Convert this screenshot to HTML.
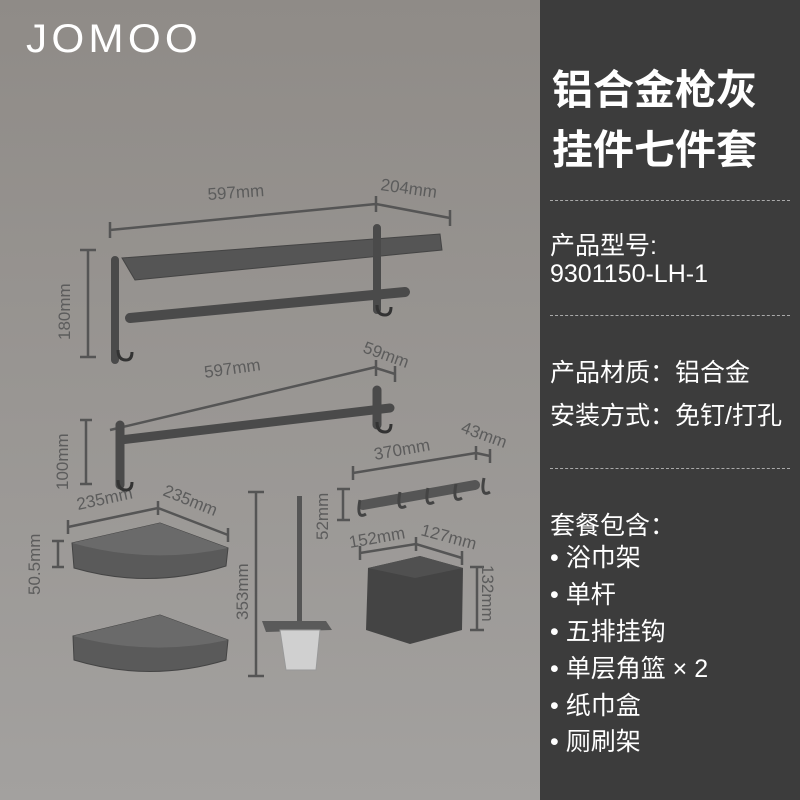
<!DOCTYPE html>
<html><head><meta charset="utf-8"><style>
html,body{margin:0;padding:0}
body{width:800px;height:800px;overflow:hidden;position:relative;background:linear-gradient(#8f8b87,#a3a19f);font-family:"Liberation Sans","Noto Sans CJK SC",sans-serif}
#panel{position:absolute;left:540px;top:0;width:260px;height:800px;background:#3c3c3c;color:#fff}
.t{position:absolute;left:10px;font-size:25px;color:#fff;white-space:nowrap}
.h{font-weight:bold;font-size:41px;left:12px;letter-spacing:0}
.d{position:absolute;left:10px;width:240px;border-top:1px dashed #aaa}
</style></head><body>
<svg width="540" height="800" style="position:absolute;left:0;top:0" font-family="Liberation Sans" fill="#5a5a5a">
<text x="26" y="52" font-size="40" fill="#fff" letter-spacing="4" textLength="176" lengthAdjust="spacingAndGlyphs">JOMOO</text>
<g stroke="#555" stroke-width="2.5" fill="none">
<path d="M110 230 L376 204 M110 222 V238 M376 196 V212 M376 204 L450 218 M450 210 V226"/>
<path d="M80 250 H96 M80 357 H96 M88 250 V357"/>
<path d="M110 430 L376 367 M376 360 V376 M376 368 L395 374 M395 366 V382"/>
<path d="M80 420 H92 M80 484 H92 M86 420 V484"/>
<path d="M68 527 L158 508 L228 535 M68 520 V534 M158 501 V515 M228 528 V542"/>
<path d="M52 541 H64 M52 567 H64 M58 541 V567"/>
<path d="M248 492 H264 M248 676 H264 M256 492 V676"/>
<path d="M337 489 H350 M337 520 H350 M343 489 V520"/>
<path d="M353 473 L476 453 M353 466 V480 M476 446 V460 M476 453 L490 456 M490 449 V463"/>
<path d="M360 553 L416 544 L462 558 M360 546 V560 M416 537 V551 M462 551 V565"/>
<path d="M470 567 H484 M470 630 H484 M477 567 V630"/>
</g>
<g font-size="17" fill="#5c5c5c">
<text x="208" y="200" transform="rotate(-4 208 200)">597mm</text>
<text x="380" y="190" transform="rotate(8 380 190)">204mm</text>
<text x="70" y="340" transform="rotate(-90 70 340)">180mm</text>
<text x="205" y="378" transform="rotate(-8 205 378)">597mm</text>
<text x="362" y="352" transform="rotate(20 362 352)">59mm</text>
<text x="68" y="490" transform="rotate(-90 68 490)">100mm</text>
<text x="375" y="460" transform="rotate(-10 375 460)">370mm</text>
<text x="460" y="432" transform="rotate(20 460 432)">43mm</text>
<text x="78" y="510" transform="rotate(-12 78 510)">235mm</text>
<text x="162" y="495" transform="rotate(22 162 495)">235mm</text>
<text x="40" y="595" transform="rotate(-90 40 595)">50.5mm</text>
<text x="248" y="620" transform="rotate(-90 248 620)">353mm</text>
<text x="328" y="540" transform="rotate(-90 328 540)">52mm</text>
<text x="350" y="548" transform="rotate(-10 350 548)">152mm</text>
<text x="420" y="535" transform="rotate(15 420 535)">127mm</text>
<text x="482" y="565" transform="rotate(90 482 565)">132mm</text>
</g>
<!-- towel rack -->
<path d="M122 258 L440 234 L442 250 L135 280 Z" fill="#555" stroke="#444"/>
<g fill="none" stroke="#4a4a4a" stroke-linecap="round">
<path d="M130 318 L405 292" stroke-width="10"/>
<path d="M115 260 V360 M377 228 V310" stroke-width="8"/>
<path d="M120 440 L390 408" stroke-width="9"/>
<path d="M120 425 V485 M377 390 V425" stroke-width="9"/>
<path d="M363 505 L475 485" stroke-width="10" stroke="#555"/>
</g>
<path d="M118 350 q0 10 8 10 q6 0 6-8 M377 305 q0 10 8 10 q6 0 6-8 M118 480 q0 10 8 10 q6 0 6-8 M377 422 q0 10 8 10 q6 0 6-8" stroke="#333" stroke-width="3" fill="none"/>
<!-- baskets -->
<path d="M72 543 L160 523 L228 548 L226 566 Q150 590 74 568 Z" fill="#5a5a5a" stroke="#444"/>
<path d="M72 543 L160 523 L228 548 Q150 565 72 543Z" fill="#6a6a6a"/>
<path d="M73 636 L160 615 L228 640 L226 660 Q150 683 74 660 Z" fill="#5a5a5a" stroke="#444"/>
<path d="M73 636 L160 615 L228 640 Q150 657 73 636Z" fill="#6a6a6a"/>
<!-- brush -->
<rect x="297" y="496" width="5" height="130" fill="#555"/>
<path d="M262 621 L326 621 L332 630 L266 632 Z" fill="#5a5a5a"/>
<path d="M280 630 H320 L316 670 H286 Z" fill="#d0d0d0" stroke="#999"/>
<!-- hooks -->
<path d="M360 500 q-4 20 6 14 M400 492 q-4 20 6 14 M428 488 q-4 20 6 14 M456 484 q-4 20 6 14 M484 478 q-4 20 6 14" stroke="#444" stroke-width="3" fill="none"/>
<!-- tissue box -->
<path d="M368 568 L420 556 L463 568 L462 630 L410 644 L366 630 Z" fill="#444"/>
<path d="M368 568 L420 556 L463 568 L415 578 Z" fill="#505050"/>
</svg>
<div id="panel">
<div class="t h" style="top:56px">铝合金枪灰</div>
<div class="t h" style="top:116px">挂件七件套</div>
<div class="d" style="top:200px"></div>
<div class="t" style="top:226px">产品型号:</div>
<div class="t" style="top:260px">9301150-LH-1</div>
<div class="d" style="top:315px"></div>
<div class="t" style="top:353px">产品材质：铝合金</div>
<div class="t" style="top:396px">安装方式：免钉/打孔</div>
<div class="d" style="top:468px"></div>
<div class="t" style="top:506px">套餐包含：</div>
<div class="t" style="top:538px">• 浴巾架</div>
<div class="t" style="top:575px">• 单杆</div>
<div class="t" style="top:612px">• 五排挂钩</div>
<div class="t" style="top:649px">• 单层角篮 × 2</div>
<div class="t" style="top:686px">• 纸巾盒</div>
<div class="t" style="top:722px">• 厕刷架</div>
</div>
</body></html>
